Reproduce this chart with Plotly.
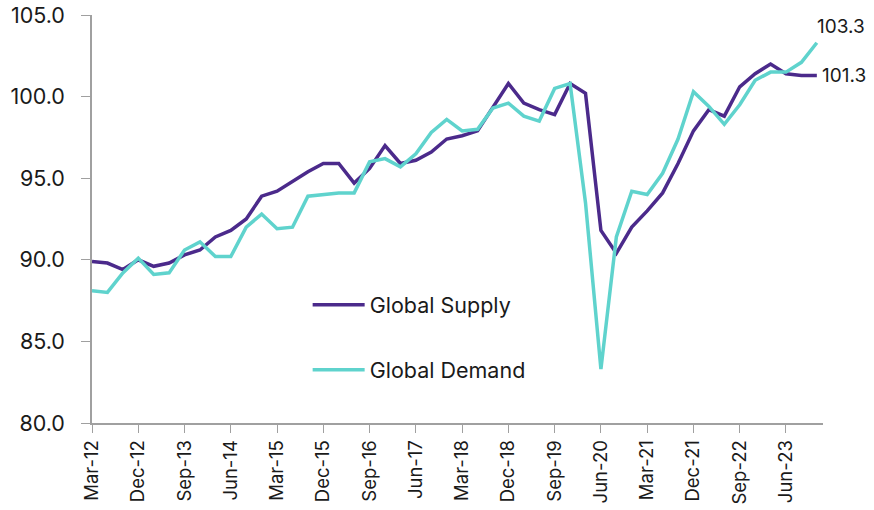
import plotly.graph_objects as go

months = ["Mar", "Jun", "Sep", "Dec"]
categories = [f"{months[i % 4]}-{12 + (i // 4)}" for i in range(48)]

global_supply = [
    89.9, 89.8, 89.4, 90.0, 89.6, 89.8, 90.3, 90.6,
    91.4, 91.8, 92.5, 93.9, 94.2, 94.8, 95.4, 95.9,
    95.9, 94.7, 95.6, 97.0, 95.9, 96.1, 96.6, 97.4,
    97.6, 97.9, 99.4, 100.8, 99.6, 99.2, 98.9, 100.8,
    100.2, 91.8, 90.4, 92.0, 93.0, 94.1, 95.9, 97.9,
    99.2, 98.8, 100.6, 101.4, 102.0, 101.4, 101.3, 101.3,
]
global_demand = [
    88.1, 88.0, 89.2, 90.1, 89.1, 89.2, 90.6, 91.1,
    90.2, 90.2, 92.0, 92.8, 91.9, 92.0, 93.9, 94.0,
    94.1, 94.1, 96.0, 96.2, 95.7, 96.5, 97.8, 98.6,
    97.9, 98.0, 99.3, 99.6, 98.8, 98.5, 100.5, 100.8,
    93.5, 83.3, 91.4, 94.2, 94.0, 95.3, 97.4, 100.3,
    99.4, 98.3, 99.5, 101.0, 101.5, 101.5, 102.1, 103.3,
]
tick_labels = categories[::3]
y_ticks = [80, 85, 90, 95, 100, 105]

PURPLE = "#4B2A8B"
CYAN = "#5FD3CD"
FONT = "Inter"
TXT = "#1a1a1a"

fig = go.Figure()
fig.add_trace(go.Scatter(
    x=categories, y=global_supply, mode="lines", name="Global Supply",
    line=dict(color=PURPLE, width=3.5), legendgroup="s",
))
fig.add_trace(go.Scatter(
    x=categories, y=global_demand, mode="lines", name="Global Demand",
    line=dict(color=CYAN, width=3.5), legendgroup="d",
))

fig.add_annotation(x=categories[-1], y=global_demand[-1], text=f"{global_demand[-1]:.1f}",
                   showarrow=False, xanchor="center", yanchor="middle",
                   xshift=24, yshift=16, font=dict(size=19, color=TXT, family=FONT))
fig.add_annotation(x=categories[-1], y=global_supply[-1], text=f"{global_supply[-1]:.1f}",
                   showarrow=False, xanchor="left", yanchor="middle",
                   xshift=3, font=dict(size=19, color=TXT, family=FONT))

fig.update_layout(
    width=874, height=510,
    margin=dict(l=92, r=51, t=15, b=87, autoexpand=False),
    paper_bgcolor="white", plot_bgcolor="white",
    font=dict(family=FONT, color=TXT),
    showlegend=True,
    legend=dict(x=0.295, y=0.21, xanchor="left", yanchor="middle",
                font=dict(size=21.5, family=FONT, color=TXT), itemwidth=52,
                tracegroupgap=34, bgcolor="rgba(0,0,0,0)"),
    xaxis=dict(
        type="category", range=[0, 47.4], automargin=False,
        tickmode="array", tickvals=tick_labels, ticktext=tick_labels,
        tickangle=-90, ticks="outside", ticklen=8, tickcolor="#A0A0A0",
        showline=True, linecolor="#A0A0A0", linewidth=1.5,
        showgrid=False, zeroline=False,
        tickfont=dict(size=18.5, family=FONT, color=TXT),
    ),
    yaxis=dict(
        range=[80, 105], tickmode="array", tickvals=y_ticks, automargin=False,
        ticktext=[f"{v:.1f}" for v in y_ticks], ticklabeloverflow="allow",
        ticks="outside", ticklen=9, tickcolor="#A0A0A0",
        showline=True, linecolor="#A0A0A0", linewidth=1.5,
        showgrid=False, zeroline=False, ticklabelstandoff=12,
        tickfont=dict(size=21.5, family=FONT, color=TXT),
    ),
)

fig.write_html("out.html", config={"displayModeBar": False},
               post_script="document.body.style.margin='0';document.body.style.overflow='hidden';")
